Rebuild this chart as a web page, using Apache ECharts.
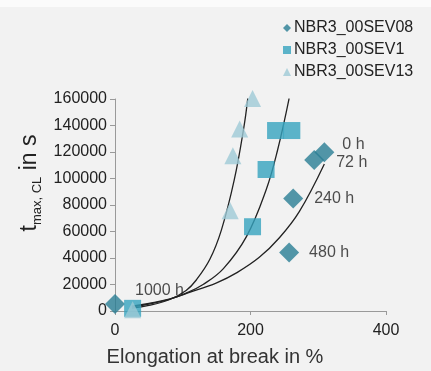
<!DOCTYPE html>
<html><head><meta charset="utf-8">
<script src="https://cdn.jsdelivr.net/npm/echarts@6/dist/echarts.min.js"></script>
<style>html,body{margin:0;padding:0;background:#f2f2f2}#c{width:431px;height:371px}</style>
</head><body><div id="c"></div>
<script>
const seriesNames = ['NBR3_00SEV08', 'NBR3_00SEV1', 'NBR3_00SEV13'];
const sev08X = [0, 257, 263, 294, 309];
const sev08Y = [5300, 44200, 85000, 113900, 119800];
const sev08Labels = ['1000 h', '480 h', '240 h', '72 h', '0 h'];
const sev1X = [26, 203, 223, 237, 261];
const sev1Y = [2000, 63600, 106800, 136200, 136200];
const sev13X = [26, 170, 174, 184, 203];
const sev13Y = [1000, 75600, 117100, 137300, 160400];
const fit13X = [25, 50, 80, 105, 120, 140, 157, 176, 190, 196];
const fit13Y = [2100, 4200, 8500, 15500, 23400, 39000, 61000, 98900, 138000, 160500];
const fit1X = [25, 50, 80, 105, 130, 160, 194, 223, 240, 257];
const fit1Y = [3100, 5200, 8800, 13500, 20000, 32000, 56100, 91300, 121500, 160500];
const fit08X = [25, 50, 80, 110, 150, 180, 213, 243, 272, 309];
const fit08Y = [3600, 5800, 9000, 14000, 21300, 29000, 40500, 55500, 75000, 111000];
const xTicks = [0, 200, 400];
const yTicks = [0, 20000, 40000, 60000, 80000, 100000, 120000, 140000, 160000];

const FONT = 'Liberation Sans, Arial, sans-serif';
const labelOffsets = [[5, -13], [5, 0], [6, 0], [7, 3], [3, -8]];
const zip = (xs, ys) => xs.map((x, i) => [x, ys[i]]);
const colors = ['#287d93', '#34a2be', '#9ec9d6'];

const chart = echarts.init(document.getElementById('c'));
const fitLine = (xs, ys) => ({
  type: 'line', data: zip(xs, ys), smooth: 0.4, showSymbol: false, silent: true,
  lineStyle: { color: '#222', width: 1.3 }, z: 3
});
chart.setOption({
  backgroundColor: '#f2f2f2',
  animation: false,
  grid: { left: 115, right: 45, top: 99, bottom: 60 },
  legend: {
    orient: 'vertical', left: 278, top: 15, itemWidth: 8, itemHeight: 8, itemGap: 6,
    textStyle: { fontFamily: FONT, fontSize: 16, color: '#222', padding: [0, 0, 0, -2] },
    data: [
      { name: seriesNames[0], icon: 'diamond' },
      { name: seriesNames[1], icon: 'rect' },
      { name: seriesNames[2], icon: 'triangle' }
    ]
  },
  xAxis: {
    type: 'value', min: xTicks[0], max: xTicks[xTicks.length - 1], interval: 200,
    splitLine: { show: false },
    axisLine: { show: true, lineStyle: { color: '#9a9a9a' } },
    axisTick: { show: true, length: 4, lineStyle: { color: '#9a9a9a' } },
    axisLabel: { margin: 12, fontFamily: FONT, fontSize: 16, color: '#222',
      formatter: v => xTicks.includes(v) ? String(v) : '' }
  },
  yAxis: {
    type: 'value', min: yTicks[0], max: yTicks[yTicks.length - 1], interval: 20000,
    splitLine: { show: false },
    axisLine: { show: true, lineStyle: { color: '#9a9a9a' } },
    axisTick: { show: true, length: 5, lineStyle: { color: '#9a9a9a' } },
    axisLabel: { margin: 8, fontFamily: FONT, fontSize: 16, color: '#222',
      formatter: v => yTicks.includes(v) ? String(v) : '' }
  },
  graphic: [
    { type: 'rect', shape: { x: 0, y: 0, width: 431, height: 7 }, style: { fill: '#fbfbfb' }, silent: true },
    { type: 'text', x: 30, y: 183, rotation: Math.PI / 2,
      style: { text: '{a|t}{b|max, CL}{a| in s}', align: 'center', verticalAlign: 'middle',
        rich: { a: { fontSize: 23, fontFamily: FONT, fill: '#222' },
                b: { fontSize: 13, fontFamily: FONT, fill: '#222', padding: [14, 0, 0, 0] } } } },
    { type: 'text', x: 215, y: 357,
      style: { text: 'Elongation at break in %', font: '20px ' + FONT, fill: '#333',
        align: 'center', verticalAlign: 'middle' } }
  ],
  series: [
    fitLine(fit13X, fit13Y),
    fitLine(fit1X, fit1Y),
    fitLine(fit08X, fit08Y),
    { name: seriesNames[0], type: 'scatter', symbol: 'diamond', symbolSize: 20, clip: false, z: 4,
      itemStyle: { color: colors[0] },
      data: zip(sev08X, sev08Y).map((v, i) => ({ value: v, label: { offset: labelOffsets[i] } })),
      label: { show: true, position: 'right', distance: 5, fontFamily: FONT, fontSize: 16, color: '#222',
        formatter: p => sev08Labels[p.dataIndex] } },
    { name: seriesNames[1], type: 'scatter', symbol: 'rect', symbolSize: 17, clip: false, z: 4,
      itemStyle: { color: colors[1] }, data: zip(sev1X, sev1Y) },
    { name: seriesNames[2], type: 'scatter', symbol: 'triangle', symbolSize: 17, clip: false, z: 4,
      itemStyle: { color: colors[2] }, data: zip(sev13X, sev13Y) }
  ]
});
</script></body></html>
